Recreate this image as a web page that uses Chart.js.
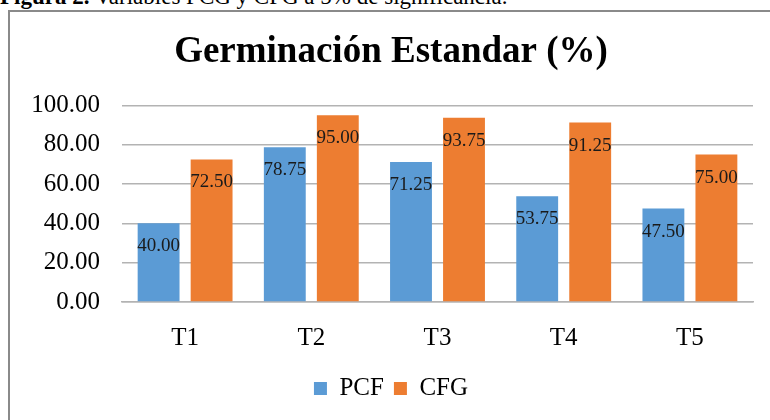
<!DOCTYPE html>
<html>
<head>
<meta charset="utf-8">
<script src="https://cdn.jsdelivr.net/npm/chart.js@4.4.1/dist/chart.umd.min.js"></script>
<style>
  body { margin: 0; background: #fff; width: 770px; height: 420px; overflow: hidden; position: relative; }
  #caption { position: absolute; left: 0; top: -15px; font: 23px "Liberation Serif", "Times New Roman", serif; line-height: 23px; white-space: nowrap; }
  #box { position: absolute; left: 8px; top: 10px; width: 762px; height: 410px; border-left: 2px solid #8a8a8a; border-top: 2px solid #8a8a8a; box-sizing: border-box; }
  #wrap { position: absolute; left: 10px; top: 12px; width: 760px; height: 408px; }
</style>
</head>
<body>
<div id="caption"><b>Figura 2.</b> Variables PCG y CFG a 5% de significancia.</div>
<div id="box"></div>
<div id="wrap"><canvas id="chart"></canvas></div>
<script>
const categories = ["T1", "T2", "T3", "T4", "T5"];
const pcfValues = [40.00, 78.75, 71.25, 53.75, 47.50];
const cfgValues = [72.50, 95.00, 93.75, 91.25, 75.00];
const seriesNames = ["PCF", "CFG"];

const serif = "'Liberation Serif', 'Times New Roman', serif";

// draws the value inside the top of each bar
const valueLabels = {
  id: "valueLabels",
  afterDatasetsDraw(chart) {
    const ctx = chart.ctx;
    ctx.save();
    ctx.font = "19px " + serif;
    ctx.fillStyle = "#1a1a1a";
    ctx.textAlign = "center";
    ctx.textBaseline = "middle";
    chart.data.datasets.forEach((ds, i) => {
      chart.getDatasetMeta(i).data.forEach((bar, j) => {
        ctx.fillText(ds.data[j].toFixed(2), bar.x, bar.y + 23);
      });
    });
    ctx.restore();
  }
};

new Chart(document.getElementById("chart"), {
  type: "bar",
  data: {
    labels: categories,
    datasets: [
      { label: seriesNames[0], data: pcfValues, backgroundColor: "#5B9BD5" },
      { label: seriesNames[1], data: cfgValues, backgroundColor: "#ED7D31" }
    ]
  },
  options: {
    responsive: true,
    maintainAspectRatio: false,
    animation: false,
    categoryPercentage: 0.84,
    barPercentage: 0.79,
    layout: { padding: { left: 19, right: 17, top: 0, bottom: 9 } },
    plugins: {
      title: {
        display: true,
        text: "Germinación Estandar (%)",
        color: "#000",
        font: { family: serif, size: 37, weight: "bold" },
        padding: { top: 18, bottom: 31 }
      },
      legend: {
        position: "bottom",
        labels: {
          color: "#000",
          font: { family: serif, size: 25 },
          boxWidth: 13,
          boxHeight: 13,
          padding: 10
        }
      },
      tooltip: { enabled: false }
    },
    scales: {
      x: {
        grid: { display: false },
        border: { display: true, color: "#b3b3b3", width: 1.5 },
        ticks: { color: "#000", font: { family: serif, size: 25 }, padding: 13 }
      },
      y: {
        min: 0,
        max: 100,
        afterFit: s => { s.width = 93; },
        ticks: {
          stepSize: 20,
          color: "#000",
          font: { family: serif, size: 25 },
          padding: 22,
          callback: v => v.toFixed(2)
        },
        grid: { color: "#b3b3b3", lineWidth: 1.5, drawTicks: false },
        border: { display: false }
      }
    }
  },
  plugins: [valueLabels]
});
</script>
</body>
</html>
